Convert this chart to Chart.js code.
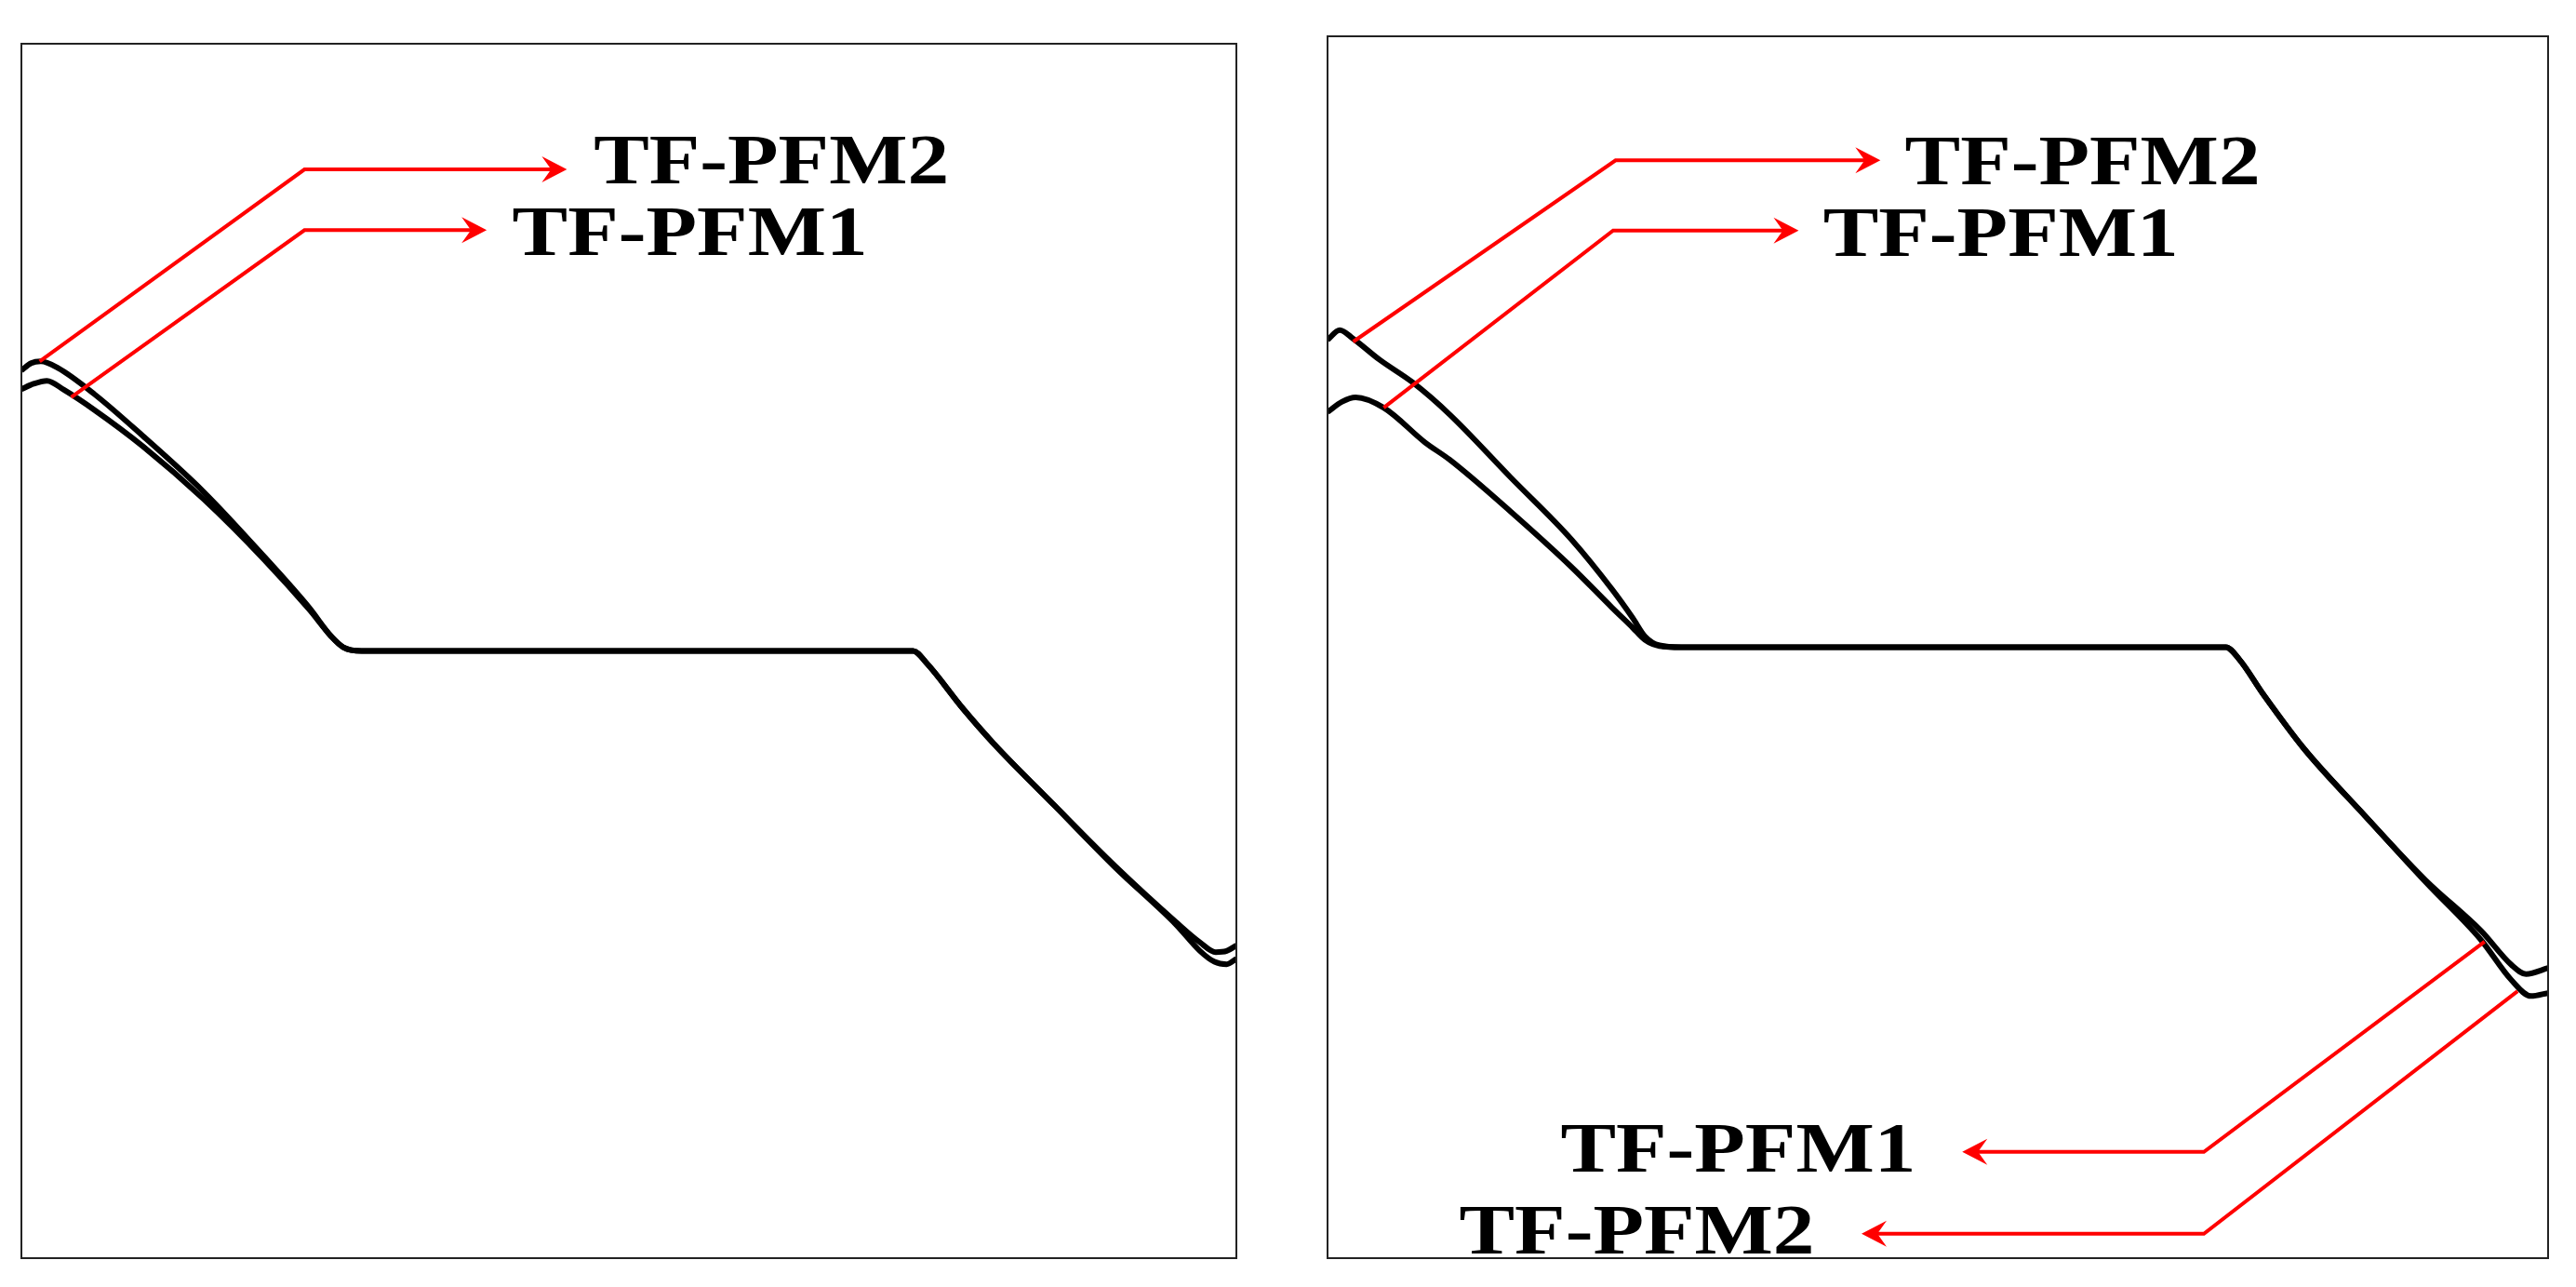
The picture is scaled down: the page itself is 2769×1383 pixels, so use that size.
<!DOCTYPE html>
<html>
<head>
<meta charset="utf-8">
<script src="https://cdn.jsdelivr.net/npm/chart.js@4.4.1/dist/chart.umd.min.js"></script>
<style>
  html, body { margin: 0; padding: 0; background: #fff; width: 2769px; height: 1383px; overflow: hidden; }
  canvas { position: absolute; }
  #chartLeft { left: 17px; top: 41px; }
  #chartRight { left: 1421px; top: 33px; }
</style>
</head>
<body>
<canvas id="chartLeft" width="1318" height="1317"></canvas>
<canvas id="chartRight" width="1324" height="1325"></canvas>
<script>
// normalised profile coordinates: x in [0, 1], y in [-1, 1] (plateau at 0)
const leftPfm1X = [0, 0.010, 0.021, 0.035, 0.06, 0.10, 0.15, 0.20, 0.237, 0.255, 0.265, 0.28, 0.734, 0.745, 0.775, 0.80, 0.85, 0.90, 0.95, 0.97, 0.983, 0.992, 1.0];
const leftPfm1Y = [0.431, 0.440, 0.445, 0.430, 0.397, 0.337, 0.250, 0.150, 0.068, 0.024, 0.006, 0, 0, -0.020, -0.095, -0.152, -0.254, -0.354, -0.446, -0.480, -0.496, -0.494, -0.485];

const leftPfm2X = [0, 0.008, 0.016, 0.030, 0.06, 0.10, 0.15, 0.20, 0.237, 0.255, 0.265, 0.28, 0.734, 0.745, 0.775, 0.80, 0.85, 0.90, 0.95, 0.97, 0.982, 0.992, 1.0];
const leftPfm2Y = [0.462, 0.474, 0.477, 0.466, 0.423, 0.354, 0.262, 0.155, 0.071, 0.024, 0.006, 0, 0, -0.020, -0.095, -0.152, -0.254, -0.356, -0.450, -0.494, -0.512, -0.516, -0.507];

const rightPfm1X = [0, 0.012, 0.023, 0.046, 0.08, 0.10, 0.15, 0.20, 0.233, 0.250, 0.260, 0.272, 0.29, 0.736, 0.747, 0.767, 0.80, 0.85, 0.90, 0.945, 0.970, 0.982, 1.0];
const rightPfm1Y = [0.385, 0.402, 0.409, 0.392, 0.335, 0.307, 0.222, 0.131, 0.065, 0.032, 0.012, 0.002, 0, 0, -0.020, -0.078, -0.166, -0.276, -0.382, -0.464, -0.520, -0.535, -0.525];

const rightPfm2X = [0, 0.010, 0.021, 0.043, 0.07, 0.10, 0.15, 0.20, 0.233, 0.250, 0.260, 0.272, 0.29, 0.736, 0.747, 0.767, 0.80, 0.85, 0.90, 0.945, 0.970, 0.986, 1.0];
const rightPfm2Y = [0.503, 0.519, 0.505, 0.470, 0.433, 0.381, 0.278, 0.176, 0.095, 0.048, 0.018, 0.003, 0, 0, -0.020, -0.078, -0.166, -0.276, -0.385, -0.479, -0.545, -0.571, -0.566];

// callouts: start on curve, elbow, arrow tip, text anchor (data units)
const leftNotes = [
    { label: "TF-PFM2", from: [0.015, 0.477], elbow: [0.233, 0.793], tip: 0.449, text: [0.471, 0.770], align: "left" },
    { label: "TF-PFM1", from: [0.041, 0.418], elbow: [0.233, 0.693], tip: 0.383, text: [0.404, 0.652], align: "left" },
];
const rightNotes = [
    { label: "TF-PFM2", from: [0.021, 0.500], elbow: [0.236, 0.797], tip: 0.453, text: [0.473, 0.758], align: "left" },
    { label: "TF-PFM1", from: [0.046, 0.392], elbow: [0.234, 0.682], tip: 0.386, text: [0.406, 0.641], align: "left" },
    { label: "TF-PFM1", from: [0.948, -0.482], elbow: [0.718, -0.826], tip: 0.520, text: [0.482, -0.858], align: "right" },
    { label: "TF-PFM2", from: [0.975, -0.563], elbow: [0.718, -0.960], tip: 0.4375, text: [0.399, -0.992], align: "right" },
];

const RED = "#ff0000";
const LABEL_WIDTH = 382;

const callouts = {
    id: "callouts",
    afterDatasetsDraw(chart, args, opts) {
        const { ctx, chartArea: a, scales: { x, y } } = chart;
        ctx.save();
        ctx.strokeStyle = "#222";
        ctx.lineWidth = 2;
        ctx.strokeRect(a.left, a.top, a.right - a.left, a.bottom - a.top);

        (opts.notes || []).forEach(n => {
            const fx = x.getPixelForValue(n.from[0]), fy = y.getPixelForValue(n.from[1]);
            const ex = x.getPixelForValue(n.elbow[0]), ey = y.getPixelForValue(n.elbow[1]);
            const tx = x.getPixelForValue(n.tip);
            const dir = tx > ex ? 1 : -1;

            ctx.strokeStyle = RED;
            ctx.lineWidth = 4;
            ctx.lineJoin = "miter";
            ctx.beginPath();
            ctx.moveTo(fx, fy);
            ctx.lineTo(ex, ey);
            ctx.lineTo(tx - dir * 14, ey);
            ctx.stroke();

            // barbed arrow head
            ctx.fillStyle = RED;
            ctx.beginPath();
            ctx.moveTo(tx, ey);
            ctx.lineTo(tx - dir * 27, ey - 14);
            ctx.lineTo(tx - dir * 17, ey);
            ctx.lineTo(tx - dir * 27, ey + 14);
            ctx.closePath();
            ctx.fill();

            ctx.font = 'bold 76px "Liberation Serif"';
            ctx.fillStyle = "#000";
            ctx.textAlign = n.align;
            ctx.textBaseline = "alphabetic";
            const sx = LABEL_WIDTH / ctx.measureText(n.label).width;
            ctx.save();
            ctx.translate(x.getPixelForValue(n.text[0]), y.getPixelForValue(n.text[1]));
            ctx.scale(sx, 1);
            ctx.fillText(n.label, 0, 0);
            ctx.restore();
        });
        ctx.restore();
    },
};

function series(xs, ys) {
    return {
        data: xs.map((v, i) => ({ x: v, y: ys[i] })),
        borderColor: "#000",
        borderWidth: 6,
        pointRadius: 0,
        fill: false,
        cubicInterpolationMode: "monotone",
    };
}

function renderPanel(id, pfm1, pfm2, notes) {
    new Chart(document.getElementById(id), {
        type: "line",
        data: { datasets: [series(pfm1[0], pfm1[1]), series(pfm2[0], pfm2[1])] },
        options: {
            responsive: false,
            animation: false,
            layout: { padding: 6 },
            scales: {
                x: { type: "linear", min: 0, max: 1, display: false },
                y: { type: "linear", min: -1, max: 1, display: false },
            },
            plugins: { legend: { display: false }, tooltip: { enabled: false }, callouts: { notes } },
        },
        plugins: [callouts],
    });
}

renderPanel("chartLeft", [leftPfm1X, leftPfm1Y], [leftPfm2X, leftPfm2Y], leftNotes);
renderPanel("chartRight", [rightPfm1X, rightPfm1Y], [rightPfm2X, rightPfm2Y], rightNotes);
</script>
</body>
</html>
